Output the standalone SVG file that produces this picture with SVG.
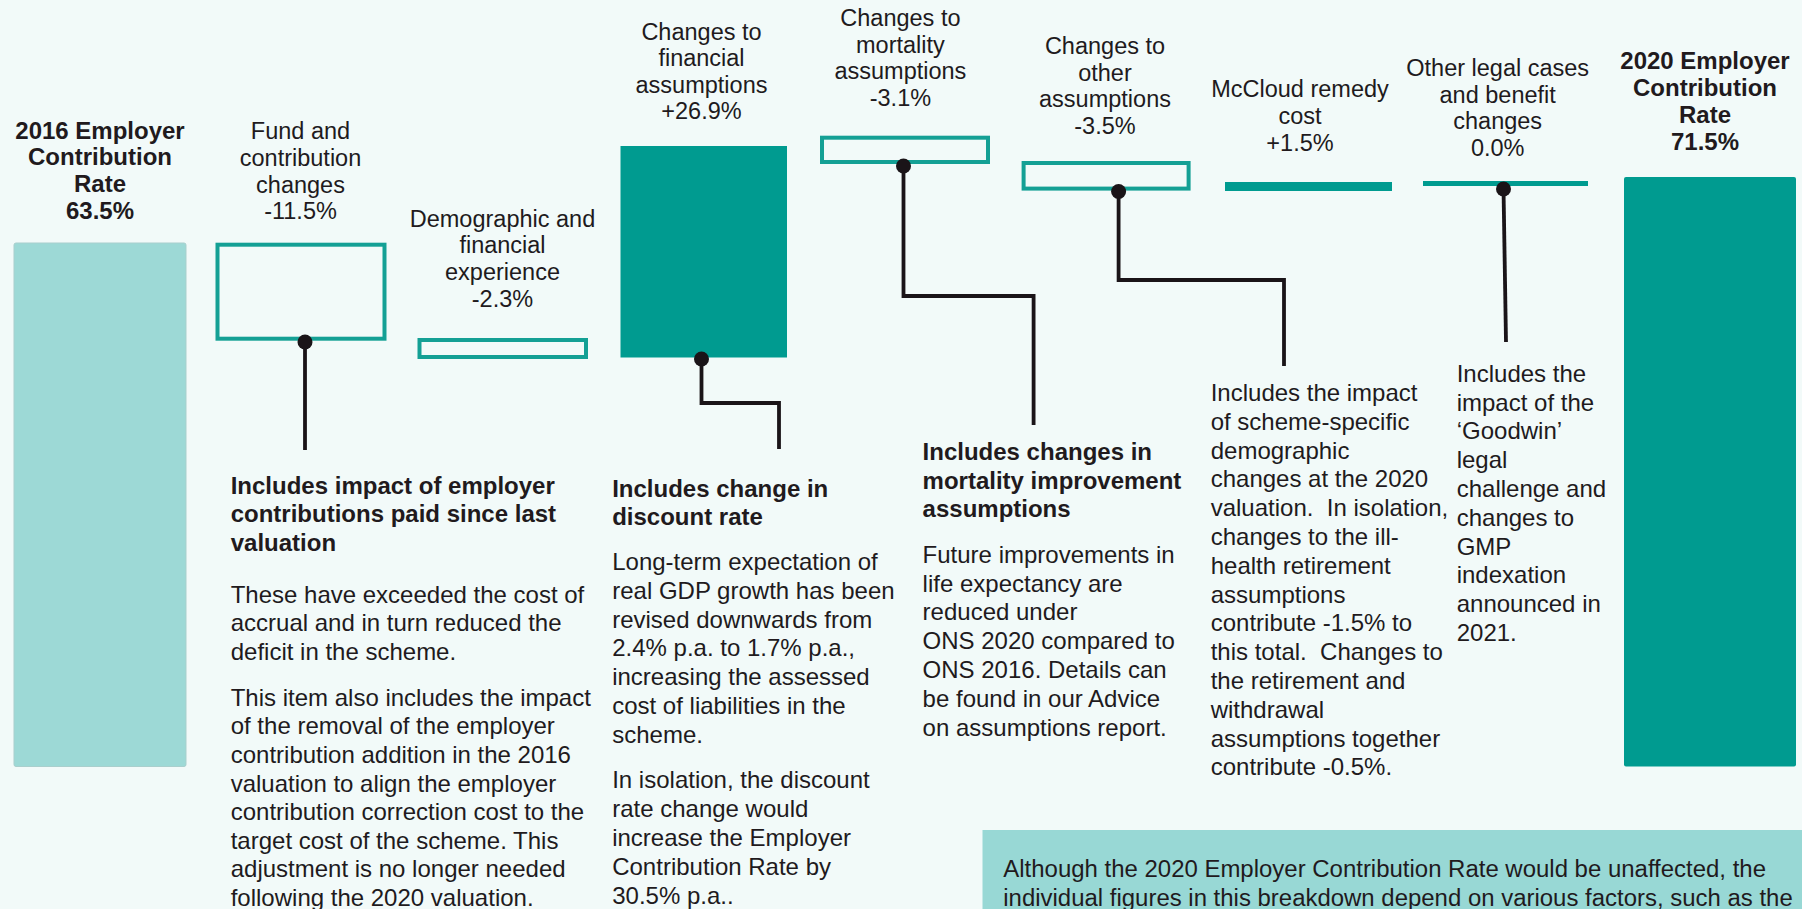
<svg xmlns="http://www.w3.org/2000/svg" width="1802" height="909" viewBox="0 0 1802 909">
<style>
text{font-family:"Liberation Sans",Arial,Helvetica,sans-serif;fill:#211a1d}
.lbl{font-size:23.5px;text-anchor:middle}
.lblb{font-size:24px;font-weight:bold;text-anchor:middle}
.hd{font-size:24px;font-weight:bold}
.p{font-size:24px}
.note{font-size:23px}
.box{fill:#f2faf9;stroke:#14a095;stroke-width:4}
.solid{fill:#009b90}
.light{fill:#9dd9d6;stroke:#a9cfcd;stroke-width:1}
.con{fill:none;stroke:#1a1418;stroke-width:3.8}
.dot{fill:#1a1418}
</style>
<rect x="0" y="0" width="1802" height="909" fill="#f2faf9"/>

<g id="bar2016">
<rect class="light" x="14" y="243" width="172" height="523.5" rx="2"/>
<text class="lblb" x="100" y="138.5">2016 Employer</text>
<text class="lblb" x="100" y="165.3">Contribution</text>
<text class="lblb" x="100" y="192.1">Rate</text>
<text class="lblb" x="100" y="219">63.5%</text>
</g>

<g id="fund">
<rect class="box" x="217.5" y="244.7" width="167" height="94"/>
<text class="lbl" x="300.5" y="139.3">Fund and</text>
<text class="lbl" x="300.5" y="166">contribution</text>
<text class="lbl" x="300.5" y="192.7">changes</text>
<text class="lbl" x="300.5" y="219.3">-11.5%</text>
</g>

<g id="demographic">
<rect class="box" x="419.5" y="340" width="166.5" height="17"/>
<text class="lbl" x="502.5" y="226.7">Demographic and</text>
<text class="lbl" x="502.5" y="253.4">financial</text>
<text class="lbl" x="502.5" y="280.1">experience</text>
<text class="lbl" x="502.5" y="306.8">-2.3%</text>
</g>

<g id="financial">
<rect class="solid" x="620.5" y="146" width="166.5" height="211.5"/>
<text class="lbl" x="701.5" y="39.5">Changes to</text>
<text class="lbl" x="701.5" y="66">financial</text>
<text class="lbl" x="701.5" y="92.5">assumptions</text>
<text class="lbl" x="701.5" y="119">+26.9%</text>
</g>

<g id="mortality">
<rect class="box" x="822" y="137.7" width="166" height="24.3"/>
<text class="lbl" x="900.4" y="26">Changes to</text>
<text class="lbl" x="900.4" y="52.5">mortality</text>
<text class="lbl" x="900.4" y="79">assumptions</text>
<text class="lbl" x="900.4" y="105.5">-3.1%</text>
</g>

<g id="other">
<rect class="box" x="1023.6" y="163" width="165" height="25.6"/>
<text class="lbl" x="1105" y="54.3">Changes to</text>
<text class="lbl" x="1105" y="80.8">other</text>
<text class="lbl" x="1105" y="107.3">assumptions</text>
<text class="lbl" x="1105" y="133.8">-3.5%</text>
</g>

<g id="mccloud">
<rect class="solid" x="1225" y="182" width="167" height="9"/>
<text class="lbl" x="1300" y="97.3">McCloud remedy</text>
<text class="lbl" x="1300" y="123.8">cost</text>
<text class="lbl" x="1300" y="150.5">+1.5%</text>
</g>

<g id="legal">
<rect class="solid" x="1423" y="181" width="165" height="5"/>
<text class="lbl" x="1497.7" y="76">Other legal cases</text>
<text class="lbl" x="1497.7" y="102.7">and benefit</text>
<text class="lbl" x="1497.7" y="129.4">changes</text>
<text class="lbl" x="1497.7" y="156">0.0%</text>
</g>

<g id="bar2020">
<rect class="solid" x="1624" y="177" width="172" height="589.5" rx="2"/>
<text class="lblb" x="1705" y="69.3">2020 Employer</text>
<text class="lblb" x="1705" y="96.1">Contribution</text>
<text class="lblb" x="1705" y="122.9">Rate</text>
<text class="lblb" x="1705" y="149.7">71.5%</text>
</g>

<g id="connectors">
<path class="con" d="M305 342V450"/>
<circle class="dot" cx="305" cy="342" r="7.5"/>
<path class="con" d="M701.5 359V403H779V449"/>
<circle class="dot" cx="701.5" cy="359" r="7.5"/>
<path class="con" d="M903.5 166V296H1033.6V425"/>
<circle class="dot" cx="903.5" cy="166" r="7.5"/>
<path class="con" d="M1118.6 191.5V280H1284V366"/>
<circle class="dot" cx="1118.6" cy="191.5" r="7.5"/>
<path class="con" d="M1503.5 188L1506 342"/>
<circle class="dot" cx="1503.5" cy="189" r="7.5"/>
</g>

<g id="note-fund">
<text class="hd" x="230.7" y="494">Includes impact of employer</text>
<text class="hd" x="230.7" y="522.3">contributions paid since last</text>
<text class="hd" x="230.7" y="550.6">valuation</text>
<text class="p" x="230.7" y="602.6">These have exceeded the cost of</text>
<text class="p" x="230.7" y="631.2">accrual and in turn reduced the</text>
<text class="p" x="230.7" y="659.8">deficit in the scheme.</text>
<text class="p" x="230.7" y="705.7">This item also includes the impact</text>
<text class="p" x="230.7" y="734.3">of the removal of the employer</text>
<text class="p" x="230.7" y="762.9">contribution addition in the 2016</text>
<text class="p" x="230.7" y="791.5">valuation to align the employer</text>
<text class="p" x="230.7" y="820.1">contribution correction cost to the</text>
<text class="p" x="230.7" y="848.7">target cost of the scheme. This</text>
<text class="p" x="230.7" y="877.3">adjustment is no longer needed</text>
<text class="p" x="230.7" y="905.9">following the 2020 valuation.</text>
</g>

<g id="note-financial">
<text class="hd" x="612.2" y="496.7">Includes change in</text>
<text class="hd" x="612.2" y="525">discount rate</text>
<text class="p" x="612.2" y="570">Long-term expectation of</text>
<text class="p" x="612.2" y="598.8">real GDP growth has been</text>
<text class="p" x="612.2" y="627.6">revised downwards from</text>
<text class="p" x="612.2" y="656.4">2.4% p.a. to 1.7% p.a.,</text>
<text class="p" x="612.2" y="685.2">increasing the assessed</text>
<text class="p" x="612.2" y="714">cost of liabilities in the</text>
<text class="p" x="612.2" y="742.8">scheme.</text>
<text class="p" x="612.2" y="788.3">In isolation, the discount</text>
<text class="p" x="612.2" y="817.1">rate change would</text>
<text class="p" x="612.2" y="845.9">increase the Employer</text>
<text class="p" x="612.2" y="874.7">Contribution Rate by</text>
<text class="p" x="612.2" y="903.5">30.5% p.a..</text>
</g>

<g id="note-mortality">
<text class="hd" x="922.6" y="460">Includes changes in</text>
<text class="hd" x="922.6" y="488.7">mortality improvement</text>
<text class="hd" x="922.6" y="517.4">assumptions</text>
<text class="p" x="922.6" y="562.7">Future improvements in</text>
<text class="p" x="922.6" y="591.5">life expectancy are</text>
<text class="p" x="922.6" y="620.3">reduced under</text>
<text class="p" x="922.6" y="649.1">ONS 2020 compared to</text>
<text class="p" x="922.6" y="677.9">ONS 2016. Details can</text>
<text class="p" x="922.6" y="706.7">be found in our Advice</text>
<text class="p" x="922.6" y="735.5">on assumptions report.</text>
</g>

<g id="note-other">
<text class="p" x="1210.7" y="401">Includes the impact</text>
<text class="p" x="1210.7" y="429.8">of scheme-specific</text>
<text class="p" x="1210.7" y="458.6">demographic</text>
<text class="p" x="1210.7" y="487.4">changes at the 2020</text>
<text class="p" x="1210.7" y="516.2" xml:space="preserve">valuation.  In isolation,</text>
<text class="p" x="1210.7" y="545">changes to the ill-</text>
<text class="p" x="1210.7" y="573.8">health retirement</text>
<text class="p" x="1210.7" y="602.6">assumptions</text>
<text class="p" x="1210.7" y="631.4">contribute -1.5% to</text>
<text class="p" x="1210.7" y="660.2" xml:space="preserve">this total.  Changes to</text>
<text class="p" x="1210.7" y="689">the retirement and</text>
<text class="p" x="1210.7" y="717.8">withdrawal</text>
<text class="p" x="1210.7" y="746.6">assumptions together</text>
<text class="p" x="1210.7" y="775.4">contribute -0.5%.</text>
</g>

<g id="note-legal">
<text class="p" x="1456.7" y="381.7">Includes the</text>
<text class="p" x="1456.7" y="410.5">impact of the</text>
<text class="p" x="1456.7" y="439.3">‘Goodwin’</text>
<text class="p" x="1456.7" y="468.1">legal</text>
<text class="p" x="1456.7" y="496.9">challenge and</text>
<text class="p" x="1456.7" y="525.7">changes to</text>
<text class="p" x="1456.7" y="554.5">GMP</text>
<text class="p" x="1456.7" y="583.3">indexation</text>
<text class="p" x="1456.7" y="612.1">announced in</text>
<text class="p" x="1456.7" y="640.9">2021.</text>
</g>

<g id="disclaimer">
<rect x="982.5" y="830" width="820" height="79" fill="#98d8d5"/>
<text class="note" x="1003.3" y="877.3" textLength="762.7" lengthAdjust="spacingAndGlyphs">Although the 2020 Employer Contribution Rate would be unaffected, the</text>
<text class="note" x="1003.3" y="906" textLength="789.4" lengthAdjust="spacingAndGlyphs">individual figures in this breakdown depend on various factors, such as the</text>
</g>
</svg>
